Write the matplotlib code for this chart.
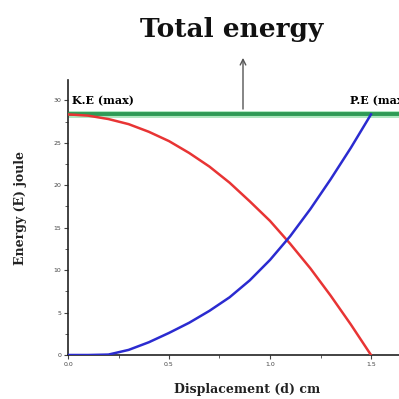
import matplotlib
matplotlib.use("Agg")
import matplotlib.pyplot as plt

# data
disp = [0.0, 0.1, 0.2, 0.3, 0.4, 0.5, 0.6, 0.7, 0.8, 0.9, 1.0, 1.1, 1.2, 1.3, 1.4, 1.5]
kinetic = [28.35, 28.2, 27.8, 27.2, 26.3, 25.2, 23.8, 22.2, 20.3, 18.1, 15.8, 13.1, 10.2, 7.0, 3.6, 0.0]
potential = [0.0, 0.0, 0.05, 0.6, 1.5, 2.6, 3.8, 5.2, 6.8, 8.8, 11.2, 14.0, 17.2, 20.7, 24.4, 28.35]
total_energy = 28.35
y_ticks = [0, 5, 10, 15, 20, 25, 30]
x_ticks = [0.0, 0.5, 1.0, 1.5]
x_ticklabels = ["0.0", "0.5", "1.0", "1.5"]

W = 1.7 * 202
fig = plt.figure(figsize=(3.99, 3.99), dpi=100)
ax = fig.add_axes([68/399, 1-355/399, W/399, 275/399])
ax.set_xlim(0, 1.7)
ax.set_ylim(0, 32.4)

ax.plot([0, 1.7], [total_energy, total_energy], color="#aee8c0", lw=5.0, solid_capstyle="butt", zorder=2)
ax.plot([0, 1.7], [total_energy, total_energy], color="#2e9a55", lw=2.8, solid_capstyle="butt", zorder=3)
ax.plot(disp, kinetic, color="#e83434", lw=1.8, zorder=4)
ax.plot(disp, potential, color="#2b2bd0", lw=1.8, zorder=4)

ax.spines["top"].set_visible(False)
ax.spines["right"].set_visible(False)
for s in ("left", "bottom"):
    ax.spines[s].set_linewidth(1.2)
    ax.spines[s].set_color("#222222")

ax.set_yticks(y_ticks)
ax.set_yticks([2.5 + 5*i for i in range(6)], minor=True)
ax.set_xticks(x_ticks)
ax.set_xticklabels(x_ticklabels)
ax.set_xticks([0.25, 0.75, 1.25], minor=True)
ax.tick_params(axis="both", which="major", labelsize=4.5, length=3, width=0.8, pad=2, colors="#444444")
ax.tick_params(axis="both", which="minor", length=2, width=0.6, colors="#444444")

ax.set_xlabel("Displacement (d) cm", fontsize=9, fontweight="bold", family="DejaVu Serif", color="#222222")
ax.xaxis.set_label_coords((247-68)/W, -(390-355)/275)
ax.xaxis.label.set_va("center")
ax.set_ylabel("Energy (E) joule", fontsize=9, fontweight="bold", family="DejaVu Serif", color="#222222")
ax.yaxis.set_label_coords(-(68-20)/W, (355-208)/275)
ax.yaxis.label.set_va("center")

ax.text(0.02, 30.0, "K.E (max)", fontsize=8, fontweight="bold", family="DejaVu Serif", va="center", ha="left")
ax.text((350-68)/202, 30.0, "P.E (max)", fontsize=8, fontweight="bold", family="DejaVu Serif", va="center", ha="left")

ax.annotate("", xy=((243-68)/202, (355-55)/8.49), xytext=((243-68)/202, total_energy + 0.3),
            arrowprops=dict(arrowstyle="->", color="#555555", lw=1.0), annotation_clip=False)

fig.text(232/399, 1-30/399, "Total energy", fontsize=19, fontweight="bold", family="DejaVu Serif",
         ha="center", va="center", color="#111111")

fig.savefig("out.png", dpi=100)
